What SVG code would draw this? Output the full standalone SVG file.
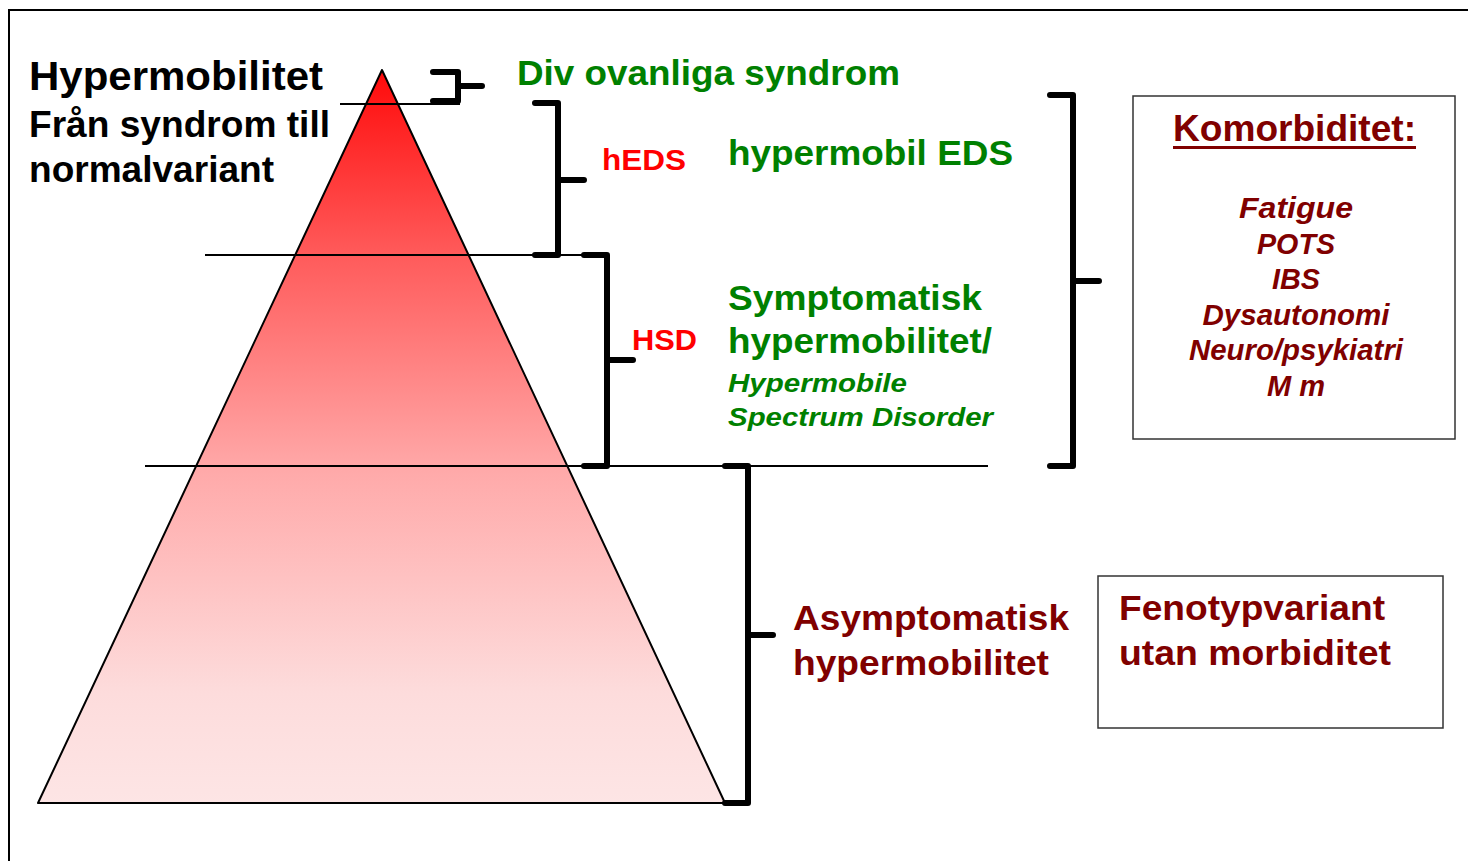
<svg xmlns="http://www.w3.org/2000/svg" width="1468" height="861" viewBox="0 0 1468 861">
<defs>
<linearGradient id="tri" x1="0" y1="70" x2="0" y2="803" gradientUnits="userSpaceOnUse">
<stop offset="0" stop-color="#ff0a0a"/>
<stop offset="0.25" stop-color="#ff5a5a"/>
<stop offset="0.55" stop-color="#ffaaaa"/>
<stop offset="0.85" stop-color="#fddcdc"/>
<stop offset="1" stop-color="#fde5e5"/>
</linearGradient>
</defs>
<style>
text{font-family:"Liberation Sans",Arial,sans-serif;font-weight:bold}
.blk{fill:#000}
.grn{fill:#008000}
.red{fill:#ff0000}
.dr{fill:#800000}
.it{font-style:italic}
.br{fill:none;stroke:#000;stroke-width:6;stroke-linejoin:round;stroke-linecap:round}
.thin{stroke:#000;stroke-width:2}
.box{fill:#fff;stroke:#333;stroke-width:1.5}
</style>
<rect width="1468" height="861" fill="#fff"/>
<g id="frame">
<path d="M9,861 V10 H1468" fill="none" stroke="#000" stroke-width="2"/>
</g>
<g id="pyramid">
<polygon points="382,70 38,803 725,803" fill="url(#tri)" stroke="#000" stroke-width="2" stroke-linejoin="round"/>
</g>
<g id="connectors">
<line class="thin" x1="340" y1="104" x2="460" y2="104"/>
<line class="thin" x1="205" y1="255" x2="583" y2="255"/>
<line class="thin" x1="145" y1="466" x2="988" y2="466"/>
<path class="br" d="M433,72 H458 V101 H433 M458,86 H482"/>
<path class="br" d="M535,103 H558 V255 H535 M558,180 H584"/>
<path class="br" d="M584,255 H607 V466 H584 M607,360 H633"/>
<path class="br" d="M1050,95 H1073 V466 H1050 M1073,281 H1099"/>
<path class="br" d="M725,466 H748 V803 H725 M748,635 H773"/>
</g>
<g id="title">
<text class="blk" x="29" y="90" font-size="40" textLength="294" lengthAdjust="spacingAndGlyphs">Hypermobilitet</text>
<text class="blk" x="29" y="137" font-size="37" textLength="301" lengthAdjust="spacingAndGlyphs">Från syndrom till</text>
<text class="blk" x="29" y="182" font-size="37" textLength="245" lengthAdjust="spacingAndGlyphs">normalvariant</text>
</g>
<g id="div-ovanliga">
<text class="grn" x="517" y="85" font-size="35" textLength="383" lengthAdjust="spacingAndGlyphs">Div ovanliga syndrom</text>
</g>
<g id="heds">
<text class="red" x="602" y="170" font-size="29" textLength="84" lengthAdjust="spacingAndGlyphs">hEDS</text>
<text class="grn" x="728" y="165" font-size="35" textLength="285" lengthAdjust="spacingAndGlyphs">hypermobil EDS</text>
</g>
<g id="hsd">
<text class="red" x="632" y="350" font-size="29" textLength="65" lengthAdjust="spacingAndGlyphs">HSD</text>
<text class="grn" x="728" y="310" font-size="35" textLength="254" lengthAdjust="spacingAndGlyphs">Symptomatisk</text>
<text class="grn" x="728" y="353" font-size="35" textLength="264" lengthAdjust="spacingAndGlyphs">hypermobilitet/</text>
<text class="grn it" x="728" y="392" font-size="26" textLength="179" lengthAdjust="spacingAndGlyphs">Hypermobile</text>
<text class="grn it" x="728" y="426" font-size="26" textLength="265" lengthAdjust="spacingAndGlyphs">Spectrum Disorder</text>
</g>
<g id="komorbiditet">
<rect class="box" x="1133" y="96" width="322" height="343"/>
<text class="dr" x="1294.5" y="141" font-size="36" text-anchor="middle" textLength="243" lengthAdjust="spacingAndGlyphs">Komorbiditet:</text>
<line x1="1173" y1="147.5" x2="1416" y2="147.5" stroke="#800000" stroke-width="3"/>
<text class="dr it" x="1296" y="218" font-size="29" text-anchor="middle" textLength="114" lengthAdjust="spacingAndGlyphs">Fatigue</text>
<text class="dr it" x="1296" y="254" font-size="29" text-anchor="middle" textLength="78" lengthAdjust="spacingAndGlyphs">POTS</text>
<text class="dr it" x="1296" y="289" font-size="29" text-anchor="middle" textLength="48" lengthAdjust="spacingAndGlyphs">IBS</text>
<text class="dr it" x="1296" y="325" font-size="29" text-anchor="middle" textLength="187" lengthAdjust="spacingAndGlyphs">Dysautonomi</text>
<text class="dr it" x="1296" y="360" font-size="29" text-anchor="middle" textLength="214" lengthAdjust="spacingAndGlyphs">Neuro/psykiatri</text>
<text class="dr it" x="1296" y="396" font-size="29" text-anchor="middle" textLength="58" lengthAdjust="spacingAndGlyphs">M m</text>
</g>
<g id="asymptomatisk">
<text class="dr" x="793" y="630" font-size="35" textLength="276" lengthAdjust="spacingAndGlyphs">Asymptomatisk</text>
<text class="dr" x="793" y="675" font-size="35" textLength="256" lengthAdjust="spacingAndGlyphs">hypermobilitet</text>
</g>
<g id="fenotyp">
<rect class="box" x="1098" y="576" width="345" height="152" stroke-width="2"/>
<text class="dr" x="1119" y="620" font-size="35" textLength="266" lengthAdjust="spacingAndGlyphs">Fenotypvariant</text>
<text class="dr" x="1119" y="665" font-size="35" textLength="272" lengthAdjust="spacingAndGlyphs">utan morbiditet</text>
</g>
</svg>
